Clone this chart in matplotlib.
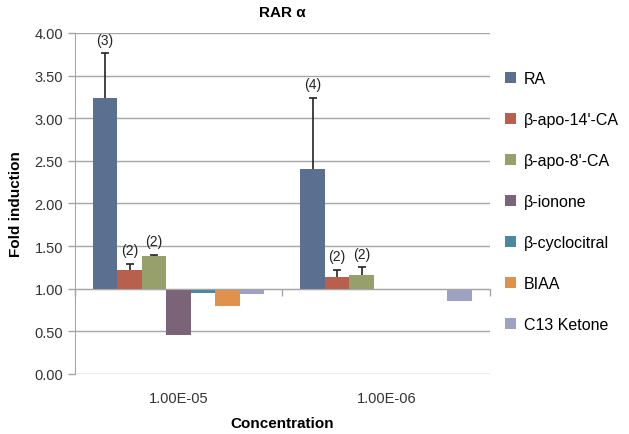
import matplotlib
matplotlib.use("Agg")
import matplotlib.pyplot as plt
import numpy as np

plt.rcParams['font.family'] = ['Liberation Sans', 'DejaVu Sans']

categories = ["1.00E-05", "1.00E-06"]
series = ["RA", "β-apo-14'-CA", "β-apo-8'-CA", "β-ionone", "β-cyclocitral", "BIAA", "C13 Ketone"]
values = {
    "RA": [3.24, 2.40],
    "β-apo-14'-CA": [1.22, 1.14],
    "β-apo-8'-CA": [1.38, 1.16],
    "β-ionone": [0.46, 1.00],
    "β-cyclocitral": [0.945, 1.00],
    "BIAA": [0.80, 1.00],
    "C13 Ketone": [0.935, 0.86],
}
errors = {
    "RA": [0.52, 0.84],
    "β-apo-14'-CA": [0.07, 0.08],
    "β-apo-8'-CA": [0.015, 0.09],
}
n_labels = {
    "RA": ["(3)", "(4)"],
    "β-apo-14'-CA": ["(2)", "(2)"],
    "β-apo-8'-CA": ["(2)", "(2)"],
}
colors = ["#5b7090", "#b8604e", "#97a06b", "#7b6477", "#4a88a0", "#e0914c", "#9da2c2"]
baseline = 1.0

fig = plt.figure(figsize=(6.29, 4.35), dpi=100)
ax = fig.add_axes([0.119, 0.138, 0.660, 0.784])

x = np.arange(len(categories))
w = 0.118
grid_c = "#a6a6a6"
for i, s in enumerate(series):
    v = np.array(values[s])
    pos = x + (i - 3) * w
    ax.bar(pos, v - baseline, bottom=baseline, width=w, color=colors[i], label=s, zorder=3)
    if s in errors:
        e = np.array(errors[s])
        eb = ax.errorbar(pos, v, yerr=[np.zeros_like(e), e], fmt='none', ecolor='#222222',
                         elinewidth=1.2, capsize=3, capthick=1.2, zorder=4)
        eb[1][0].set_visible(False)
        for p, vv, ee, lab in zip(pos, v, e, n_labels[s]):
            ax.text(p, vv + ee + 0.08, lab, ha='center', va='bottom', fontsize=10, color='#222222')

ax.set_ylim(0, 4)
ax.set_xlim(-0.5, 1.5)
ax.set_yticks(np.arange(0, 4.01, 0.5))
ax.set_yticklabels([f"{t:.2f}" for t in np.arange(0, 4.01, 0.5)], fontsize=10.5, color='#333333')
ax.yaxis.grid(True, color=grid_c, linewidth=1, zorder=0)
ax.set_axisbelow(True)
ax.tick_params(axis='y', length=5, color=grid_c, width=1)

# category axis crossing at 1.0
ax.spines['bottom'].set_position(('data', baseline))
ax.spines['bottom'].set_color(grid_c)
ax.spines['bottom'].set_zorder(5)
ax.set_xticks([-0.5, 0.5, 1.5])
ax.set_xticklabels([])
ax.tick_params(axis='x', length=5, color=grid_c, width=1, direction='out')
for spn in ['top', 'right']:
    ax.spines[spn].set_visible(False)
ax.spines['left'].set_color(grid_c)

for xi, c in zip(x, categories):
    ax.text(xi, -0.05, c, transform=ax.get_xaxis_transform(), ha='center', va='top',
            fontsize=10.5, color='#333333')

ax.set_ylabel("Fold induction", fontsize=11, fontweight='bold', labelpad=8)
fig.text(ax.get_position().x0 + ax.get_position().width / 2, 0.01, "Concentration",
         ha='center', va='bottom', fontsize=11, fontweight='bold')
fig.text(ax.get_position().x0 + ax.get_position().width / 2, 0.955, "RAR α",
         ha='center', va='bottom', fontsize=11, fontweight='bold')

leg = fig.legend(loc='upper left', bbox_to_anchor=(0.78, 0.868), frameon=False,
                 fontsize=11.5, handlelength=0.7, handleheight=0.7, handletextpad=0.5,
                 labelspacing=1.63)

fig.savefig("out.png", dpi=100)
